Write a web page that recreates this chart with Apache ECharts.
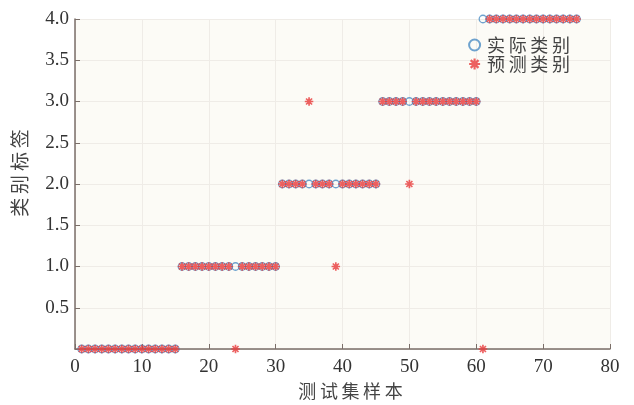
<!DOCTYPE html>
<html>
<head>
<meta charset="utf-8">
<script src="https://cdn.jsdelivr.net/npm/echarts@6/dist/echarts.min.js"></script>
<style>
  html, body { margin: 0; padding: 0; background: #ffffff; }
  #chart { width: 634px; height: 405px; }
</style>
</head>
<body>
<div id="chart"></div>
<script>
// Test-set sample indices and class labels
const sampleIds = [];
for (let i = 1; i <= 75; i++) sampleIds.push(i);

const actualClass = [
  0,0,0,0,0,0,0,0,0,0,0,0,0,0,0,
  1,1,1,1,1,1,1,1,1,1,1,1,1,1,1,
  2,2,2,2,2,2,2,2,2,2,2,2,2,2,2,
  3,3,3,3,3,3,3,3,3,3,3,3,3,3,3,
  4,4,4,4,4,4,4,4,4,4,4,4,4,4,4
];

const predictedClass = [
  0,0,0,0,0,0,0,0,0,0,0,0,0,0,0,
  1,1,1,1,1,1,1,1,0,1,1,1,1,1,1,
  2,2,2,2,3,2,2,2,1,2,2,2,2,2,2,
  3,3,3,3,2,3,3,3,3,3,3,3,3,3,3,
  0,4,4,4,4,4,4,4,4,4,4,4,4,4,4
];

const xTicks = [0, 10, 20, 30, 40, 50, 60, 70, 80];
const yTicks = [0.5, 1.0, 1.5, 2.0, 2.5, 3.0, 3.5, 4.0];

const seriesNames = ['实际类别', '预测类别'];

// Eight-armed asterisk drawn as stroked segments
const asteriskPath = 'path://M0,-10L0,10M-10,0L10,0M-7.07,-7.07L7.07,7.07M-7.07,7.07L7.07,-7.07';

const serif = '"Liberation Serif", "DejaVu Serif", serif';
const cjk = '"Noto Sans CJK SC", sans-serif';
const sp = '\u2009';

const chart = echarts.init(document.getElementById('chart'), null, { renderer: 'canvas' });

chart.setOption({
  backgroundColor: '#ffffff',
  animation: false,
  grid: {
    left: 75, right: 24, top: 19, bottom: 52,
    show: true, backgroundColor: '#fcfbf6', borderWidth: 0
  },
  legend: {
    left: 463, top: 31,
    orient: 'vertical',
    itemGap: 1,
    itemWidth: 11, itemHeight: 11,
    textStyle: { fontFamily: cjk, fontSize: 18, color: '#444', padding: [0, 0, 0, 2] },
    data: [
      { name: seriesNames[0], icon: 'circle', itemStyle: { color: 'transparent', borderColor: '#4a8cc4', borderWidth: 2 } },
      { name: seriesNames[1], icon: asteriskPath, itemStyle: { color: 'transparent', borderColor: '#e83b3b', borderWidth: 2.2 } }
    ],
    formatter: n => n.split('').join(sp)
  },
  xAxis: {
    type: 'value', min: 0, max: 80, interval: 10,
    name: '测试集样本'.split('').join(sp), nameLocation: 'middle', nameGap: 33,
    nameTextStyle: { fontFamily: cjk, fontSize: 18, color: '#444', padding: [0, 0, 0, 16] },
    axisLine: { show: true, onZero: false, lineStyle: { color: '#7a6e68', width: 1.5 } },
    axisTick: { show: true, inside: true, length: 5, lineStyle: { color: '#7a6e68' } },
    axisLabel: {
      fontFamily: serif, fontSize: 19, color: '#333', margin: 9,
      formatter: v => xTicks.includes(v) ? String(v) : ''
    },
    splitLine: { show: true, lineStyle: { color: '#efece7', width: 1 } }
  },
  yAxis: {
    type: 'value', min: 0, max: 4, interval: 0.5,
    name: '类别标签'.split('').join(sp), nameLocation: 'middle', nameGap: 46,
    nameTextStyle: { fontFamily: cjk, fontSize: 19, color: '#444', padding: [0, 0, 0, 22] },
    axisLine: { show: true, onZero: false, lineStyle: { color: '#7a6e68', width: 1.5 } },
    axisTick: { show: true, inside: true, length: 5, lineStyle: { color: '#7a6e68' } },
    axisLabel: {
      fontFamily: serif, fontSize: 19, color: '#333', margin: 6,
      formatter: v => yTicks.some(t => Math.abs(t - v) < 1e-9) ? v.toFixed(1) : ''
    },
    splitLine: { show: true, lineStyle: { color: '#efece7', width: 1 } }
  },
  series: [
    {
      name: seriesNames[0],
      type: 'scatter',
      symbol: 'circle',
      symbolSize: 7.5,
      itemStyle: { color: 'rgba(0,0,0,0)', borderColor: '#4a8cc4', borderWidth: 1.3 },
      data: sampleIds.map((x, i) => [x, actualClass[i]]),
      z: 2
    },
    {
      name: seriesNames[1],
      type: 'scatter',
      symbol: asteriskPath,
      symbolSize: 8.5,
      itemStyle: { color: 'rgba(0,0,0,0)', borderColor: '#e83b3b', borderWidth: 1.7 },
      data: sampleIds.map((x, i) => [x, predictedClass[i]]),
      z: 3
    }
  ]
});
</script>
</body>
</html>
